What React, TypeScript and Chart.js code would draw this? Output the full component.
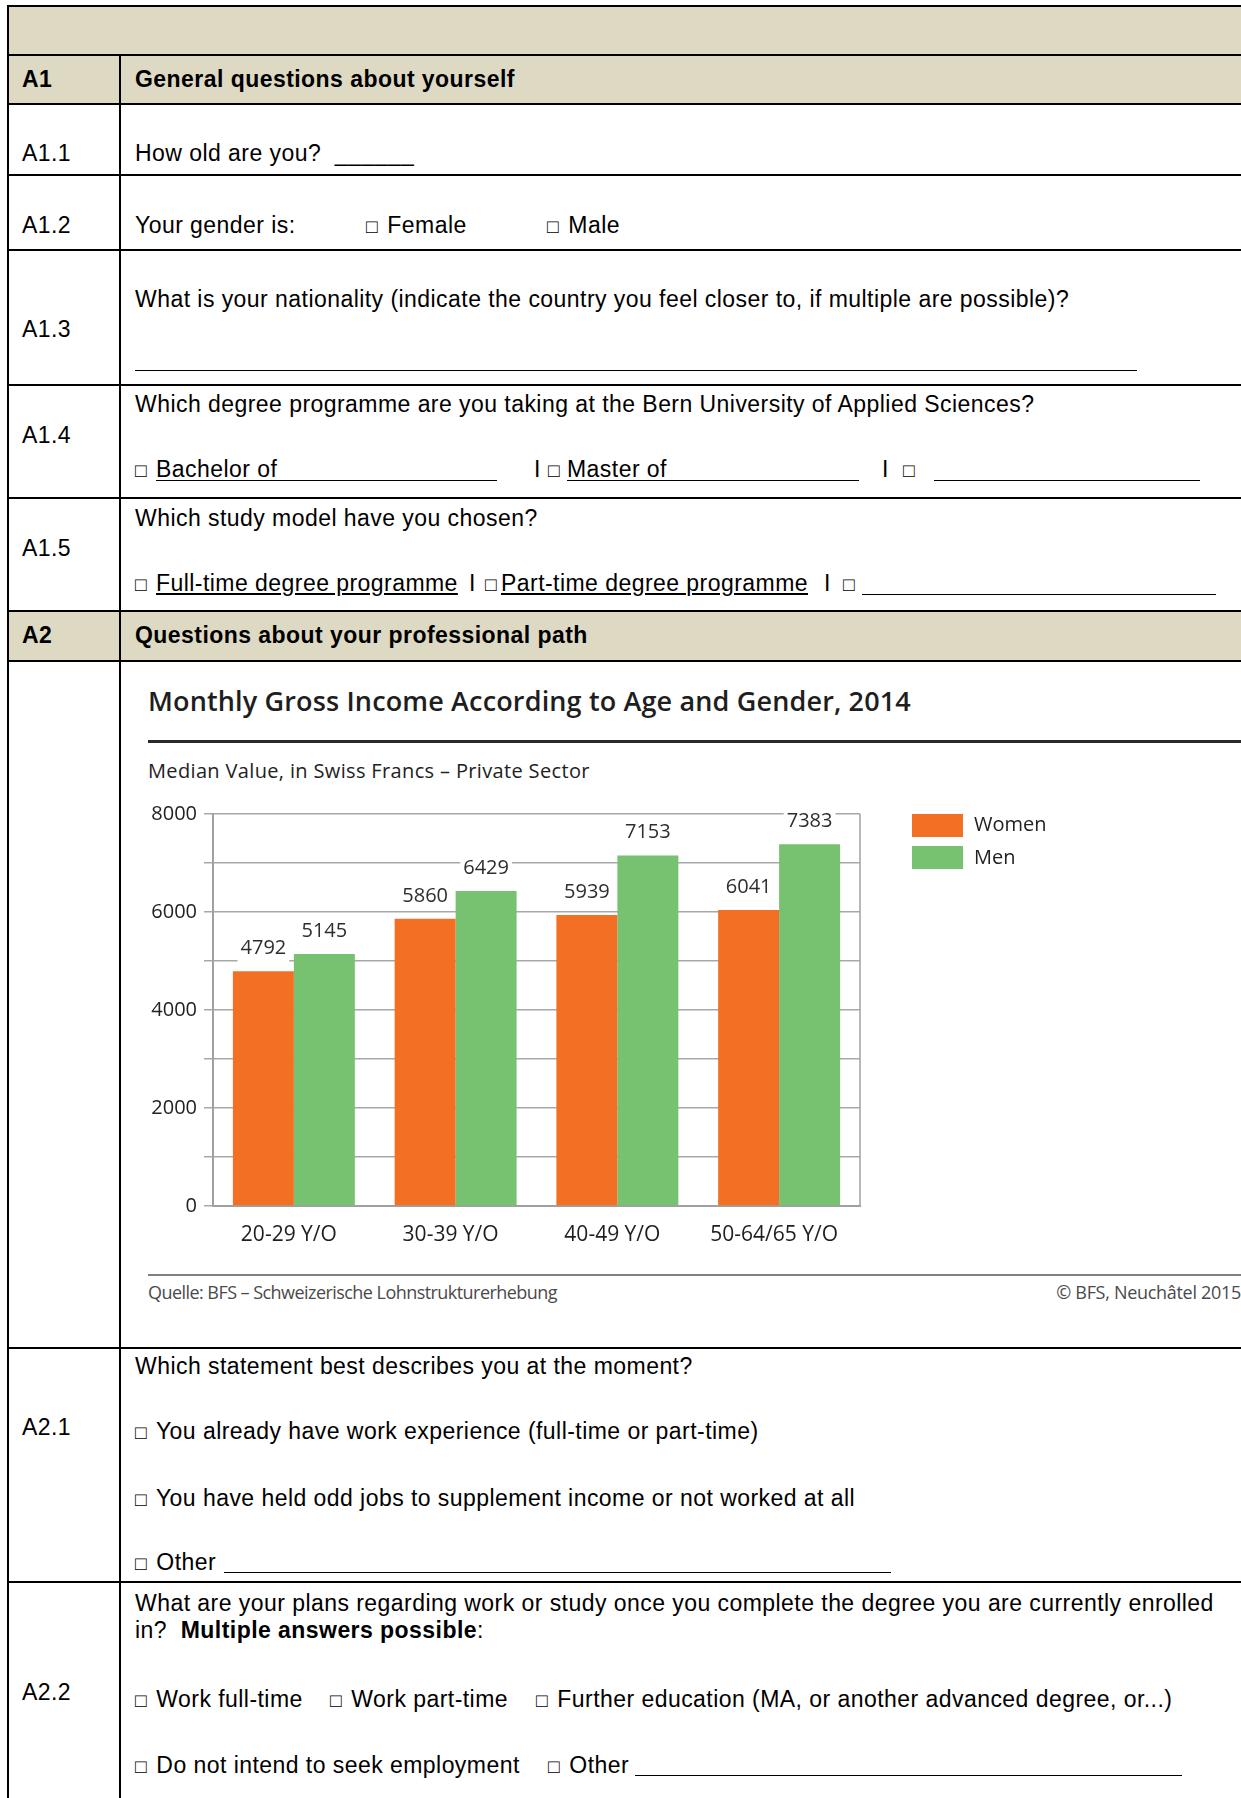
import React, { useEffect, useRef } from "react";
import { Chart, registerables } from "chart.js";

Chart.register(...registerables);

// ---------- chart data ----------
const categories = ["20-29 Y/O", "30-39 Y/O", "40-49 Y/O", "50-64/65 Y/O"];
const seriesNames = ["Women", "Men"];
const womenValues = [4792, 5860, 5939, 6041];
const menValues = [5145, 6429, 7153, 7383];
const yTickLabels = [0, 2000, 4000, 6000, 8000];
const seriesColors = ["#f26f24", "#77c270"];

const chartTitle = "Monthly Gross Income According to Age and Gender, 2014";
const chartSubtitle = "Median Value, in Swiss Francs \u2013 Private Sector";
const chartSource = "Quelle: BFS \u2013 Schweizerische Lohnstrukturerhebung";
const chartCopyright = "\u00a9 BFS, Neuch\u00e2tel 2015";

const FAM = "'Liberation Sans', Arial, Helvetica, sans-serif";
const CFAM = "'Open Sans', 'Noto Sans', sans-serif";
const BEIGE = "#ded9c3";

const valueLabelPlugin = {
  id: "valueLabels",
  afterDatasetsDraw(chart: any) {
    const ctx = chart.ctx;
    ctx.save();
    ctx.font = `20px ${CFAM}`;
    ctx.textAlign = "center";
    ctx.textBaseline = "middle";
    chart.data.datasets.forEach((ds: any, i: number) => {
      const meta = chart.getDatasetMeta(i);
      meta.data.forEach((bar: any, j: number) => {
        const text = String(ds.data[j]);
        const x = bar.x;
        const y = bar.y - 23;
        const w = ctx.measureText(text).width + 6;
        ctx.fillStyle = "#ffffff";
        ctx.fillRect(x - w / 2, y - 13, w, 28);
        ctx.fillStyle = "#2e2e2e";
        ctx.fillText(text, x, y);
      });
    });
    ctx.restore();
  },
};

const framePlugin = {
  id: "frameRight",
  beforeDatasetsDraw(chart: any) {
    const { ctx, chartArea } = chart;
    ctx.save();
    ctx.strokeStyle = "#a0a0a0";
    ctx.lineWidth = 1.5;
    ctx.beginPath();
    ctx.moveTo(chartArea.right, chartArea.top);
    ctx.lineTo(chartArea.right, chartArea.bottom);
    ctx.stroke();
    ctx.restore();
  },
};

const legendPlugin = {
  id: "sideLegend",
  afterDraw(chart: any) {
    const { ctx, chartArea } = chart;
    ctx.save();
    ctx.font = `20px ${CFAM}`;
    ctx.textAlign = "left";
    ctx.textBaseline = "middle";
    chart.data.datasets.forEach((ds: any, i: number) => {
      const x = chartArea.right + 52;
      const y = chartArea.top + i * 32;
      ctx.fillStyle = ds.backgroundColor;
      ctx.fillRect(x, y, 51, 23);
      ctx.fillStyle = "#222222";
      ctx.fillText(ds.label, x + 62, y + 11 + i);
    });
    ctx.restore();
  },
};

function IncomeChart() {
  const ref = useRef<HTMLCanvasElement | null>(null);
  useEffect(() => {
    if (!ref.current) return;
    const chart = new Chart(ref.current, {
      type: "bar",
      data: {
        labels: categories,
        datasets: [
          {
            label: seriesNames[0],
            data: womenValues,
            backgroundColor: seriesColors[0],
            borderWidth: 0,
            categoryPercentage: 0.754,
            barPercentage: 1,
          },
          {
            label: seriesNames[1],
            data: menValues,
            backgroundColor: seriesColors[1],
            borderWidth: 0,
            categoryPercentage: 0.754,
            barPercentage: 1,
          },
        ],
      },
      options: {
        animation: false,
        responsive: false,
        maintainAspectRatio: false,
        devicePixelRatio: 1,
        layout: { padding: { top: 24, right: 381, left: 0, bottom: 0 } },
        plugins: {
          legend: { display: false },
          tooltip: { enabled: false },
          title: { display: false },
        },
        scales: {
          x: {
            grid: { display: false, drawTicks: false },
            border: { display: true, color: "#a0a0a0", width: 2 },
            ticks: {
              font: { family: CFAM, size: 21 },
              color: "#1e1e1e",
              padding: 16,
              labelOffset: -5,
            },
            afterFit: (s: any) => {
              s.height = 50;
            },
          },
          y: {
            min: 0,
            max: 8000,
            ticks: {
              stepSize: 1000,
              autoSkip: false,
              font: { family: CFAM, size: 20 },
              color: "#222222",
              padding: 7,
              callback: (v: any) => (yTickLabels.includes(Number(v)) ? String(v) : ""),
            },
            grid: { color: "#a8a8a8", lineWidth: 1.5, tickLength: 9, drawTicks: true },
            border: { color: "#a0a0a0", width: 2 },
            afterFit: (s: any) => {
              s.width = 77;
            },
          },
        },
      } as any,
      plugins: [framePlugin, valueLabelPlugin, legendPlugin],
    });
    return () => chart.destroy();
  }, []);
  return (
    <canvas
      ref={ref}
      width={1105}
      height={466}
      style={{ position: "absolute", left: 136, top: 790, width: 1105, height: 466 }}
    />
  );
}

// ---------- page helpers ----------
function T(props: any) {
  const { x, y, children, b, size = 23, fam = FAM, color = "#000", ls = 0.45, right } = props;
  const lh = Math.round(size * 1.25);
  const style: any = {
    position: "absolute",
    top: y - lh / 2,
    lineHeight: lh + "px",
    fontSize: size,
    fontFamily: fam,
    fontWeight: b ? (b === true ? 700 : b) : 400,
    color,
    whiteSpace: "pre",
    letterSpacing: ls,
  };
  if (right !== undefined) style.right = right;
  else style.left = x;
  return <div style={style}>{children}</div>;
}

// small check-box glyph, as in the form
const Bx = (props: any) => (
  <span style={{ fontSize: 19, letterSpacing: props.sp === undefined ? 3 : props.sp }}>{"\u25a1"}</span>
);

function HL(props: any) {
  const { y, x1 = 7, x2 = 1241, t = 2, color = "#000" } = props;
  return (
    <div
      style={{ position: "absolute", left: x1, top: y - t / 2, width: x2 - x1, height: t, background: color }}
    />
  );
}

function VL(props: any) {
  const { x, y1, y2, t = 2, color = "#000" } = props;
  return <div style={{ position: "absolute", left: x - t / 2, top: y1, width: t, height: y2 - y1, background: color }} />;
}

function Fill(props: any) {
  const { y1, y2, x1 = 8, x2 = 1241, color = BEIGE } = props;
  return <div style={{ position: "absolute", left: x1, top: y1, width: x2 - x1, height: y2 - y1, background: color }} />;
}

const U = (s: string) => <span style={{ textDecoration: "underline" }}>{s}</span>;

export default function App() {
  const rowLines = [6, 55, 104, 175, 250, 385, 498, 611, 661, 1348, 1582];
  return (
    <div
      style={{
        position: "absolute",
        left: 0,
        top: 0,
        width: 1241,
        height: 1798,
        overflow: "hidden",
        background: "#fff",
        fontFamily: FAM,
      }}
    >
      <Fill y1={7} y2={55} />
      <Fill y1={55} y2={104} />
      <Fill y1={611} y2={661} />
      {rowLines.map((y) => (
        <HL key={y} y={y} />
      ))}
      <VL x={8} y1={5} y2={1798} />
      <VL x={120} y1={55} y2={1798} />

      {/* A1 */}
      <T x={22} y={79} b>A1</T>
      <T x={135} y={79} b>General questions about yourself</T>

      <T x={22} y={153}>A1.1</T>
      <T x={135} y={153}>{"How old are you?  ______"}</T>

      <T x={22} y={225}>A1.2</T>
      <T x={135} y={225}>Your gender is:</T>
      <T x={366} y={225}><Bx />{" Female"}</T>
      <T x={547} y={225}><Bx />{" Male"}</T>

      <T x={22} y={329}>A1.3</T>
      <T x={135} y={299}>What is your nationality (indicate the country you feel closer to, if multiple are possible)?</T>
      <HL y={370} x1={135} x2={1137} t={1} />

      <T x={22} y={435}>A1.4</T>
      <T x={135} y={404}>Which degree programme are you taking at the Bern University of Applied Sciences?</T>
      <T x={135} y={469}><Bx sp={0} /></T>
      <T x={156} y={469}>Bachelor of</T>
      <HL y={480} x1={156} x2={497} t={1} />
      <T x={534} y={469}>I</T>
      <T x={548} y={469}><Bx sp={0} /></T>
      <T x={567} y={469}>Master of</T>
      <HL y={480} x1={567} x2={859} t={1} />
      <T x={882} y={469}>I</T>
      <T x={903} y={469}><Bx sp={0} /></T>
      <HL y={480} x1={934} x2={1200} t={1} />

      <T x={22} y={548}>A1.5</T>
      <T x={135} y={518}>Which study model have you chosen?</T>
      <T x={135} y={583}><Bx sp={0} /></T>
      <T x={156} y={583}>{U("Full-time degree programme")}</T>
      <T x={469} y={583}>I</T>
      <T x={485} y={583}><Bx sp={0} /></T>
      <T x={501} y={583}>{U("Part-time degree programme")}</T>
      <T x={824} y={583}>I</T>
      <T x={843} y={583}><Bx sp={0} /></T>
      <HL y={594} x1={862} x2={1216} t={1} />

      {/* A2 */}
      <T x={22} y={635} b>A2</T>
      <T x={135} y={635} b>Questions about your professional path</T>

      {/* chart block */}
      <T x={148} y={701} size={27} fam={CFAM} b={600} color="#1e1e1e" ls={0.15}>{chartTitle}</T>
      <HL y={741} x1={148} x2={1241} t={3} color="#2a2a2a" />
      <T x={148} y={770} size={20} fam={CFAM} color="#222" ls={0.35}>{chartSubtitle}</T>
      <IncomeChart />
      <HL y={1275} x1={148} x2={1241} t={2} color="#808080" />
      <T x={148} y={1292} size={18} fam={CFAM} color="#4a4a4a" ls={-0.55}>{chartSource}</T>
      <T right={0} y={1292} size={18} fam={CFAM} color="#4a4a4a" ls={-0.3}>{chartCopyright}</T>

      {/* A2.1 */}
      <T x={22} y={1427}>A2.1</T>
      <T x={135} y={1366}>Which statement best describes you at the moment?</T>
      <T x={135} y={1431}><Bx />{" You already have work experience (full-time or part-time)"}</T>
      <T x={135} y={1498}><Bx />{" You have held odd jobs to supplement income or not worked at all"}</T>
      <T x={135} y={1562}><Bx />{" Other"}</T>
      <HL y={1572} x1={224} x2={891} t={1} />

      {/* A2.2 */}
      <T x={22} y={1692}>A2.2</T>
      <T x={135} y={1603}>What are your plans regarding work or study once you complete the degree you are currently enrolled</T>
      <T x={135} y={1630}>
        {"in?  "}
        <b>Multiple answers possible</b>
        {":"}
      </T>
      <T x={135} y={1699}><Bx />{" Work full-time"}</T>
      <T x={330} y={1699}><Bx />{" Work part-time"}</T>
      <T x={536} y={1699}><Bx />{" Further education (MA, or another advanced degree, or...)"}</T>
      <T x={135} y={1765}><Bx />{" Do not intend to seek employment"}</T>
      <T x={548} y={1765}><Bx />{" Other"}</T>
      <HL y={1775} x1={635} x2={1182} t={1} />
    </div>
  );
}
